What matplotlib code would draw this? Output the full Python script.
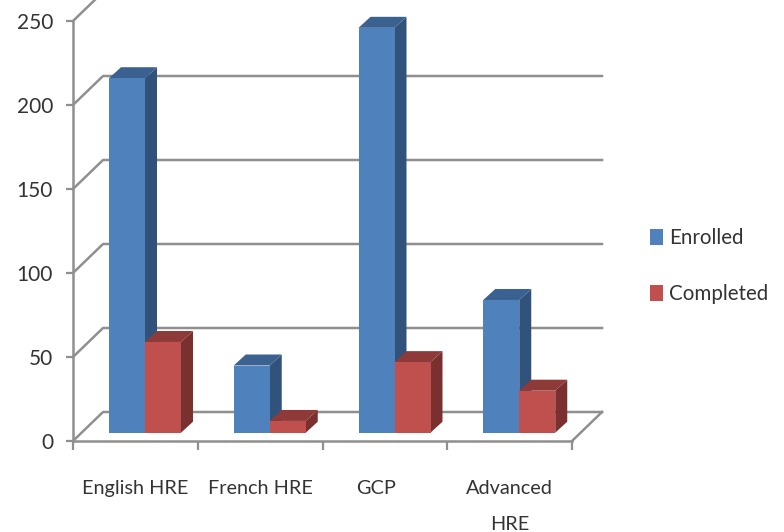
import matplotlib
matplotlib.use("Agg")
import matplotlib.pyplot as plt
from matplotlib.patches import Polygon, Patch

plt.rcParams['font.family'] = ['Lato', 'DejaVu Sans']

categories = ["English HRE", "French HRE", "GCP", "Advanced", "HRE"]
enrolled = [211, 40, 241, 79]
completed = [54, 7, 42, 25]
y_ticks = [0, 50, 100, 150, 200, 250]

# where the labels sit along the axis, not quite centred in the original
label_x = [0.5, 1.5, 2.43, 3.5, 3.5]
label_y = [-28, -28, -28, -28, -49.5]

GRID = '#8f8f8f'
TEXT = '#333333'
BLUE = ('#4f81bd', '#3a6190', '#31527a')
RED = ('#c0504d', '#8e3a38', '#7a302e')

# 3d look: pixel sizes turned into data units
PX_X = 4 / 499
PX_Y = 250 / 420
WALL_X, WALL_Y = 30 * PX_X, 29 * PX_Y
DEPTH_X, DEPTH_Y = 12 * PX_X, 11 * PX_Y
FLOOR_Y = 8.3 * PX_Y
BAR_W = 36 * PX_X
BAR_START = 36 * PX_X


def draw_bar(ax, x, value, colors, z):
    y0 = FLOOR_Y
    y1 = FLOOR_Y + value
    front = [(x, y0), (x + BAR_W, y0), (x + BAR_W, y1), (x, y1)]
    top = [(x, y1), (x + BAR_W, y1), (x + BAR_W + DEPTH_X, y1 + DEPTH_Y), (x + DEPTH_X, y1 + DEPTH_Y)]
    side = [(x + BAR_W, y0), (x + BAR_W + DEPTH_X, y0 + DEPTH_Y),
            (x + BAR_W + DEPTH_X, y1 + DEPTH_Y), (x + BAR_W, y1)]
    for pts, c in [(side, colors[2]), (top, colors[1]), (front, colors[0])]:
        ax.add_patch(Polygon(pts, closed=True, facecolor=c, edgecolor='none', zorder=z, clip_on=False))


fig = plt.figure(figsize=(7.84, 5.32), dpi=100)
ax = fig.add_axes([73 / 784, (532 - 441) / 532, 499 / 784, 420 / 532])
ax.set_xlim(0, 4)
ax.set_ylim(0, 250)

# back wall lines and the slanted bits
for v in y_ticks:
    ax.plot([0, WALL_X, 4 + WALL_X], [v, v + WALL_Y, v + WALL_Y], color=GRID, lw=1.8,
            clip_on=False, zorder=1, solid_joinstyle='round')
ax.plot([4, 4 + WALL_X], [0, WALL_Y], color=GRID, lw=1.8, clip_on=False, zorder=1)

for i in range(len(enrolled)):
    x = i + BAR_START
    draw_bar(ax, x, enrolled[i], BLUE, 3)
    draw_bar(ax, x + BAR_W, completed[i], RED, 4)

for name, lx, ly in zip(categories, label_x, label_y):
    ax.text(lx, ly, name, ha='center', va='center', fontsize=14.3, color=TEXT)

ax.set_xticks(range(5))
ax.set_xticklabels([])
ax.set_yticks(y_ticks)
ax.tick_params(axis='y', length=5, width=1.6, color=GRID, labelsize=15, labelcolor=TEXT, pad=9.4)
ax.tick_params(axis='x', length=6.5, width=1.6, color=GRID)
for s in ['top', 'right']:
    ax.spines[s].set_visible(False)
for s in ['left', 'bottom']:
    ax.spines[s].set_color(GRID)
    ax.spines[s].set_linewidth(1.8)
ax.patch.set_alpha(0)

handles = [Patch(facecolor=BLUE[0], label='Enrolled'), Patch(facecolor=RED[0], label='Completed')]
fig.legend(handles=handles, loc='upper left', bbox_to_anchor=(650 / 784, 1 - 228 / 532), frameon=False,
           fontsize=14.8, labelcolor=TEXT, handlelength=0.64, handleheight=0.83, handletextpad=0.29,
           labelspacing=1.75, borderpad=0, borderaxespad=0)

fig.savefig('out.png', dpi=100)
